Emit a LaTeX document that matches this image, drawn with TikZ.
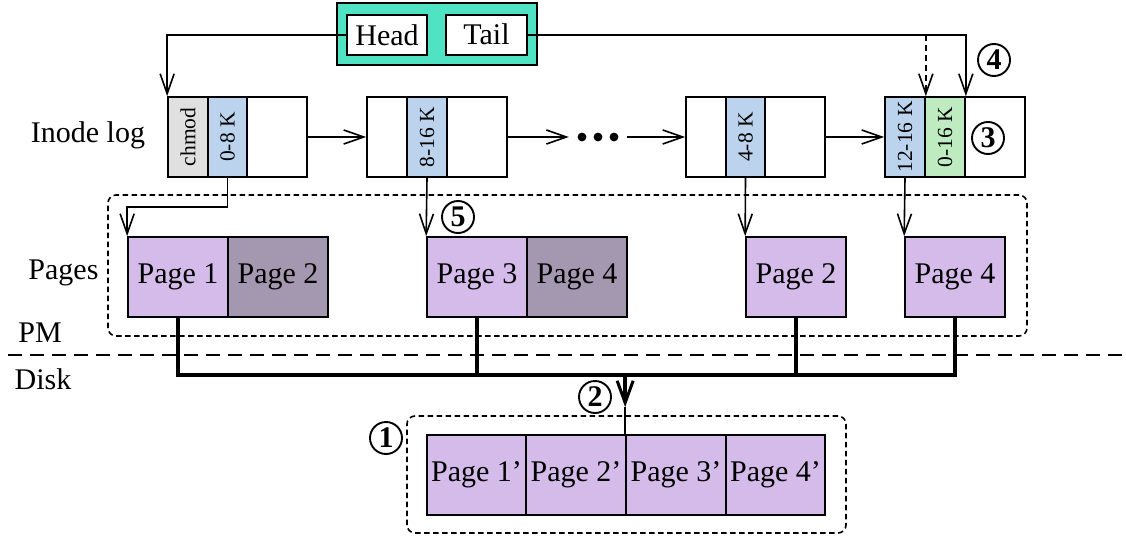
\documentclass[tikz,border=0pt]{standalone}
\usepackage{fontspec}
\setmainfont{Liberation Serif}
\usetikzlibrary{arrows.meta,calc}

\definecolor{ptrteal}{HTML}{4FE2C3}
\definecolor{pagelight}{HTML}{D4BBEA}
\definecolor{pagedark}{HTML}{A497B0}
\definecolor{extblue}{HTML}{BCD3EE}
\definecolor{extgreen}{HTML}{BEECC0}
\definecolor{opgray}{HTML}{E0E0E0}

\tikzset{
  bigfont/.style={font=\fontsize{30}{34}\selectfont},
  cell/.style={draw, line width=1.7pt, minimum height=80pt, inner sep=0pt, anchor=center},
  vlabel/.style={cell, font=\fontsize{21.5}{24}\selectfont},
  pagebox/.style={draw, line width=1.7pt, minimum width=100pt, minimum height=80pt,
    inner sep=0pt, fill=pagelight, bigfont},
  region/.style={draw, line width=1.6pt, dash pattern=on 5.5pt off 3.5pt, rounded corners=8pt},
  ptr/.style={line width=1.6pt, -{Straight Barb[length=20pt,width=14pt,line width=1.6pt]}},
  bus/.style={line width=4pt},
  step num/.style={circle, draw, line width=1.9pt, minimum size=32pt, inner sep=0pt,
    font=\fontsize{30}{30}\selectfont\bfseries},
}

\begin{document}
\begin{tikzpicture}[x=1pt, y=-1pt]
\useasboundingbox (0,0) rectangle (1126,535);

% ---- head / tail pointers ----
\node[draw, line width=1.8pt, fill=ptrteal, minimum width=200pt, minimum height=62pt] (ht) at (437,34) {};
\node[draw, line width=1.7pt, fill=white, minimum width=80pt, minimum height=40pt, inner sep=0pt, bigfont] (head) at (387,35) {Head};
\node[draw, line width=1.7pt, fill=white, minimum width=81pt, minimum height=40pt, inner sep=0pt, bigfont] (tail) at (486.5,35) {\raisebox{2pt}{Tail}};

% ---- inode log ----
\node[bigfont] (loglabel) at (88,135) {Inode log};

\node[vlabel, minimum width=40pt, fill=opgray] (e1a) at (188,137) {\rotatebox{90}{chmod}};
\node[vlabel, minimum width=39pt, fill=extblue] (e1b) at (227.5,137) {\rotatebox{90}{0-8 K}};
\node[cell, minimum width=60pt] (e1c) at (277,137) {};

\node[cell, minimum width=40pt] (e2a) at (387,137) {};
\node[vlabel, minimum width=40pt, fill=extblue] (e2b) at (427,137) {\rotatebox{90}{8-16 K}};
\node[cell, minimum width=60pt] (e2c) at (477,137) {};

\node[minimum width=58pt, minimum height=20pt, inner sep=0pt] (dots) at (598,137) {};
\foreach \dx in {-16,0,16} \fill ($(dots.center)+(\dx,0)$) circle (4.4pt);

\node[cell, minimum width=40pt] (e3a) at (706,137) {};
\node[vlabel, minimum width=39pt, fill=extblue] (e3b) at (745.5,137) {\rotatebox{90}{4-8 K}};
\node[cell, minimum width=60pt] (e3c) at (795,137) {};

\node[vlabel, minimum width=40pt, fill=extblue] (e4a) at (905,137) {\rotatebox{90}{12-16 K}};
\node[vlabel, minimum width=40pt, fill=extgreen] (e4b) at (945,137) {\rotatebox{90}{0-16 K}};
\node[cell, minimum width=60pt] (e4c) at (995,137) {};

\draw[ptr] (e1c.east) -- (e2a.west);
\draw[ptr] (e2c.east) -- (dots.west);
\draw[ptr] (dots.east) -- (e3a.west);
\draw[ptr] (e3c.east) -- (e4a.west);

\draw[ptr] (head.west) -| (e1a.north west);
\draw[ptr] (tail.east) -| (e4b.north east);
\coordinate (oldtail) at (e4a.north east |- tail.east);
\draw[ptr, dash pattern=on 6pt off 4pt] (oldtail) -- (e4a.north east);

% ---- pages in PM ----
\node[region, minimum width=919pt, minimum height=141pt] (pmbox) at (567.5,265.5) {};
\node[bigfont, anchor=east] (pageslabel) at (102,273) {Pages};

\node[pagebox] (p1) at (178,277) {Page 1};
\node[pagebox, fill=pagedark] (p2) at (278,277) {Page 2};
\node[pagebox] (p3) at (477,277) {Page 3};
\node[pagebox, fill=pagedark] (p4) at (577,277) {\raisebox{-3pt}{Page 4}};
\node[pagebox] (p2r) at (796,277) {Page 2};
\node[pagebox] (p4r) at (955,277) {Page 4};

\draw[ptr] (e1b.south) -- ++(0,29) -| (p1.north west);
\draw[ptr] (e2b.south) -- (p3.north west);
\draw[ptr] (e3b.south) -- (p2r.north west);
\draw[ptr] (e4a.south) -- (p4r.north west);

% ---- PM / disk boundary ----
\node[bigfont] (pmlabel) at (40,333) {PM};
\node[bigfont] (disklabel) at (43,379) {Disk};
\coordinate (divL) at (8,355);
\coordinate (divR) at (1126,355);
\draw[line width=1.6pt, dash pattern=on 14pt off 8pt] (divL) -- (divR);

% ---- disk pages ----
\node[region, minimum width=439pt, minimum height=117pt] (diskbox) at (626.5,474.5) {};
\node[pagebox, minimum width=99pt] (d1) at (476.5,475) {Page 1'};
\node[pagebox] (d2) at (576,475) {Page 2'};
\node[pagebox] (d3) at (676,475) {Page 3'};
\node[pagebox, minimum width=99pt] (d4) at (775.5,475) {Page 4'};

% ---- write-back bus ----
\coordinate (busy) at (0,375);
\draw[bus] (p1.south) -- (p1.south |- busy) -- (p4r.south |- busy) -- (p4r.south);
\draw[bus] (p3.south) -- (p3.south |- busy);
\draw[bus] (p2r.south) -- (p2r.south |- busy);
\coordinate (tip) at ($(d3.north west)+(0,-27)$);
\draw[bus, -{Straight Barb[length=22pt,width=16pt,line width=3pt]}] (d3.north west |- busy) -- (tip);
\draw[line width=1.6pt] (tip) -- (d3.north west);

% ---- step numbers ----
\node[step num] (s1) at (386,438) {1};
\node[step num] (s2) at (595,397) {2};
\node[step num] (s3) at (988,138) {3};
\node[step num] (s4) at (994,60) {4};
\node[step num] (s5) at (458,217) {5};
\end{tikzpicture}
\end{document}
